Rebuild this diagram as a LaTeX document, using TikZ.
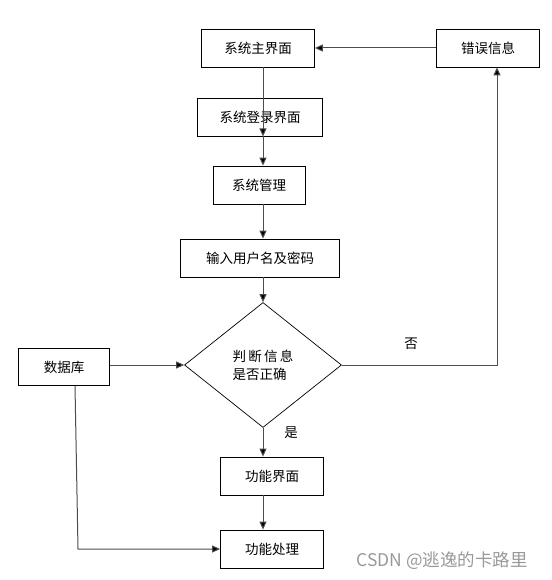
\documentclass[tikz,border=0pt]{standalone}
\usepackage{fontspec}
\setmainfont{Noto Sans CJK SC}
\usetikzlibrary{arrows.meta,positioning,shapes.geometric}

\tikzset{
  box/.style={draw,line width=0.8pt,minimum height=38pt,inner sep=0pt,font=\fontsize{13.5}{15}\selectfont},
  decide/.style={draw,diamond,line width=0.7pt,minimum width=157pt,minimum height=125pt,inner sep=0pt,align=left,font=\fontsize{13.5}{18}\selectfont},
  line/.style={draw=black!70,line width=1pt},
  arr/.style={line,-{Triangle[length=8pt,width=7pt,fill=black]}},
  lbl/.style={font=\fontsize{13.5}{15}\selectfont}
}

\begin{document}
\begin{tikzpicture}[x=1pt,y=-1pt]
\useasboundingbox (0,0) rectangle (551,580);

\node[box,minimum width=113pt] (main) at (258,48) {系统主界面};
\node[box,minimum width=103pt] (err) at (488,48) {错误信息};
\node[box,minimum width=125pt] (login) at (260,117) {系统登录界面};
\node[box,minimum width=92pt] (mgmt) at (259,185) {系统管理};
\node[box,minimum width=159pt] (input) at (260,258) {输入用户名及密码};
\node[decide] (dec) at (263,365) {判\,断\,信\,息\\是否正确};
\node[box,minimum width=91pt,minimum height=37pt] (db) at (64,367) {数据库};
\node[box,minimum width=103pt] (func) at (272,476) {功能界面};
\node[box,minimum width=103pt] (proc) at (272,549) {功能处理};

\coordinate (turn) at (497,365);
\coordinate (corner) at (78,549);

\draw[arr] (err) -- (main);
\draw[arr] (main.south -| dec.north) -- (login.south -| dec.north);
\draw[arr] (login.south -| dec.north) -- (mgmt.north -| dec.north);
\draw[arr] (mgmt.south -| dec.north) -- (input.north -| dec.north) ;
\draw[arr] (input.south -| dec.north) -- (dec.north);
\draw[arr] (db.east |- dec.west) -- (dec.west);
\draw[arr] (dec.east) -- (turn) -- (err.south -| turn);
\draw[arr] (dec.south) -- (dec.south |- func.north);
\draw[arr] (func.south -| dec.south) -- (proc.north -| dec.south);
\draw[arr] ([xshift=11pt]db.south) -- (corner) -- (proc.west);

\node[lbl] (no) at (411,344) {否};
\node[lbl] (yes) at (291,433) {是};
\node[font=\fontsize{17.5}{20}\selectfont,text=black!40] (mark) at (442,561) {CSDN @逃逸的卡路里};
\end{tikzpicture}
\end{document}
